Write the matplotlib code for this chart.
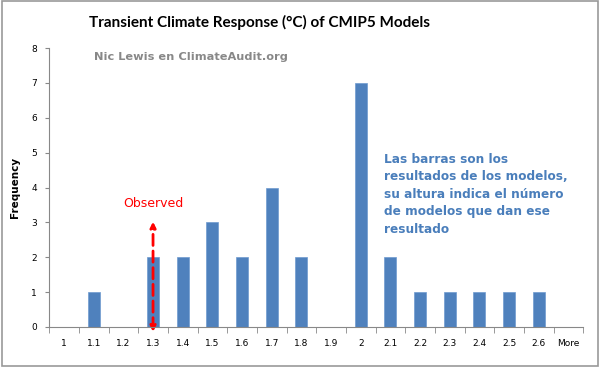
import matplotlib.pyplot as plt
from matplotlib.patches import FancyArrowPatch

# --- DATOS ---
categorias = ["1", "1.1", "1.2", "1.3", "1.4", "1.5", "1.6", "1.7", "1.8",
              "1.9", "2", "2.1", "2.2", "2.3", "2.4", "2.5", "2.6", "More"]
frecuencias = [0, 1, 0, 2, 2, 3, 2, 4, 2, 0, 7, 2, 1, 1, 1, 1, 1, 0]
observado = "1.3"

azul = "#4f81bd"

fig = plt.figure(figsize=(6, 3.67), dpi=100)
ax = fig.add_axes([0.082, 0.109, 0.89, 0.760])

x = list(range(len(categorias)))
ax.bar(x, frecuencias, width=0.4, color=azul, edgecolor="#6f9bd0", linewidth=0.5)

ax.set_xlim(-0.5, len(categorias) - 0.5)
ax.set_ylim(0, 8)
ax.set_yticks(range(9))
ax.set_xticks(x)
ax.set_xticklabels(categorias)
ax.tick_params(axis="x", length=0, labelsize=6.5, pad=9)
ax.tick_params(axis="y", length=3, labelsize=6.5, color="#888888", direction="out", pad=6)
ax.set_xticks([i - 0.5 for i in range(len(categorias) + 1)], minor=True)
ax.tick_params(axis="x", which="minor", length=4, color="#888888", direction="out")

for s in ["top", "right"]:
    ax.spines[s].set_visible(False)
for s in ["left", "bottom"]:
    ax.spines[s].set_color("#888888")
    ax.spines[s].set_linewidth(0.8)

ax.set_ylabel("Frequency", fontsize=7.5, fontweight="bold", labelpad=8)

# flecha del valor observado
xo = categorias.index(observado)
flecha = FancyArrowPatch((xo, -0.22), (xo, 3.1), arrowstyle="<|-|>", mutation_scale=8,
                         color="red", linestyle=(0, (4, 2)), linewidth=2, clip_on=False)
ax.add_patch(flecha)
ax.text(xo, 3.35, "Observed", color="red", fontsize=9, ha="center", va="bottom")

ax.text(10.8, 5.0, "Las barras son los\nresultados de los modelos,\nsu altura indica el número\nde modelos que dan ese\nresultado",
        color="#4a7ebb", fontsize=8.7, fontweight="bold", ha="left", va="top", linespacing=1.45)

fig.text(0.433, 0.94, "Transient Climate Response (°C) of CMIP5 Models",
         fontsize=11, fontweight="bold", ha="center", va="center", family="Lato")
ax.text(1.0, 7.75, "Nic Lewis en ClimateAudit.org", color="#888888",
        fontsize=8.2, fontweight="bold", ha="left", va="center")

# borde gris del gráfico
fig.patches.append(plt.Rectangle((0.003, 0.004), 0.994, 0.992, transform=fig.transFigure,
                                 fill=False, edgecolor="#999999", linewidth=1.2))

fig.savefig("out.png", dpi=100)
